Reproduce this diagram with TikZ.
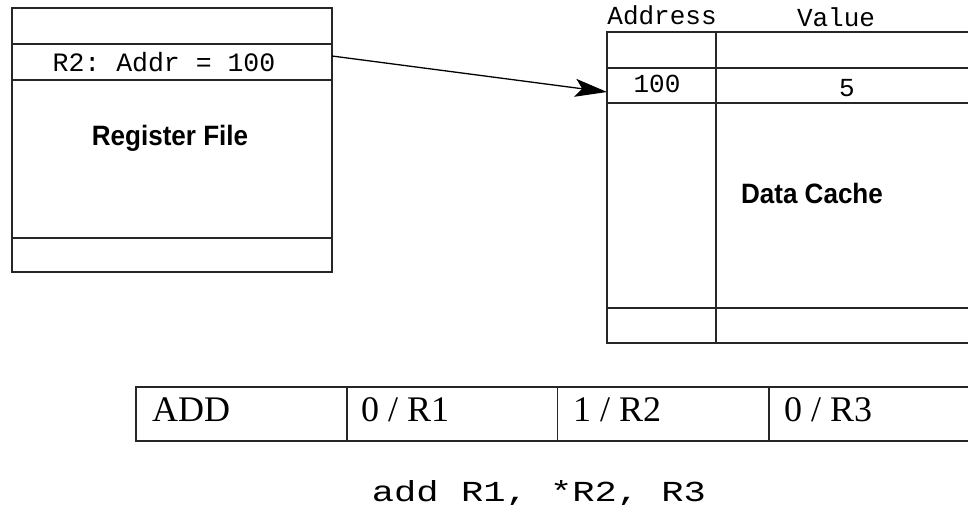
\documentclass[tikz,border=0pt]{standalone}
\usepackage{fontspec}
\usepackage{graphicx}
\setmainfont{Liberation Serif}
\setsansfont{Liberation Sans}
\setmonofont{Liberation Mono}
\usetikzlibrary{arrows.meta}
\tikzset{
  frame/.style={line width=1.3pt, draw=black!85},
  cellbox/.style={draw=black!85, line width=1.3pt, minimum width=211pt, minimum height=54pt, inner sep=0pt, outer sep=0pt},
  rowbox/.style={inner sep=0pt, outer sep=0pt},
  monolabel/.style={font=\ttfamily\fontsize{26}{26}\selectfont, inner sep=0pt},
  titlelabel/.style={font=\sffamily\bfseries\fontsize{28}{28}\selectfont, inner sep=0pt},
  instrlabel/.style={font=\rmfamily\fontsize{36}{36}\selectfont, inner sep=0pt, anchor=base west},
  pointer/.style={line width=1.3pt, -{Stealth[length=32pt,width=18pt,inset=7pt]}}
}
\begin{document}
\begin{tikzpicture}[x=1pt,y=-1pt]
\useasboundingbox (0,0) rectangle (968,505);
\clip (0,0) rectangle (968,505);
% Register file
\draw[frame] (12,8) rectangle (332,272);
\draw[frame] (12,44) -- (332,44);
\draw[frame] (12,80) -- (332,80);
\draw[frame] (12,238) -- (332,238);
\node[rowbox, minimum width=320pt, minimum height=36pt] (r2) at (172,62) {};
\node[monolabel, font=\ttfamily\fontsize{26.5}{26.5}\selectfont] (r2text) at (164,62) {R2: Addr = 100};
\node[titlelabel] (rftitle) at (170,138) {\scalebox{0.93}[1]{Register File}};
% Data cache
\draw[frame] (985,32) -- (607,32) -- (607,343) -- (985,343);
\draw[frame] (607,68) -- (985,68);
\draw[frame] (607,103) -- (985,103);
\draw[frame] (607,308) -- (985,308);
\draw[frame] (716,32) -- (716,343);
\node[rowbox, minimum width=109pt, minimum height=35pt] (c100) at (661.5,85.5) {};
\node[monolabel, anchor=base] (addrhead) at (662,25) {Address};
\node[monolabel, anchor=base] (valhead) at (836,27) {Value};
\node[monolabel, anchor=base] (addr100) at (657,93) {100};
\node[monolabel, anchor=base] (val5) at (847,97) {5};
\node[titlelabel] (dctitle) at (812,193) {\scalebox{0.93}[1]{Data Cache}};
% Pointer
\draw[pointer] ([yshift=6pt]r2.east) -- ([yshift=-6.5pt]c100.west);
% Instruction
\node[cellbox] (f1) at (241.5,414) {};
\node[cellbox] (f2) at (452,414) {};
\node[cellbox] (f3) at (663,414) {};
\node[cellbox] (f4) at (874.5,414) {};
\node[instrlabel] (t1) at (152,421) {ADD};
\node[instrlabel] (t2) at (361,421) {0 / R1};
\node[instrlabel] (t3) at (573,421) {1 / R2};
\node[instrlabel] (t4) at (784,421) {0 / R3};
\node[font=\ttfamily\fontsize{29}{29}\selectfont, inner sep=0pt, anchor=base] (asm) at (539,501) {\scalebox{1.28}[1]{add R1, *R2, R3}};
\end{tikzpicture}
\end{document}
